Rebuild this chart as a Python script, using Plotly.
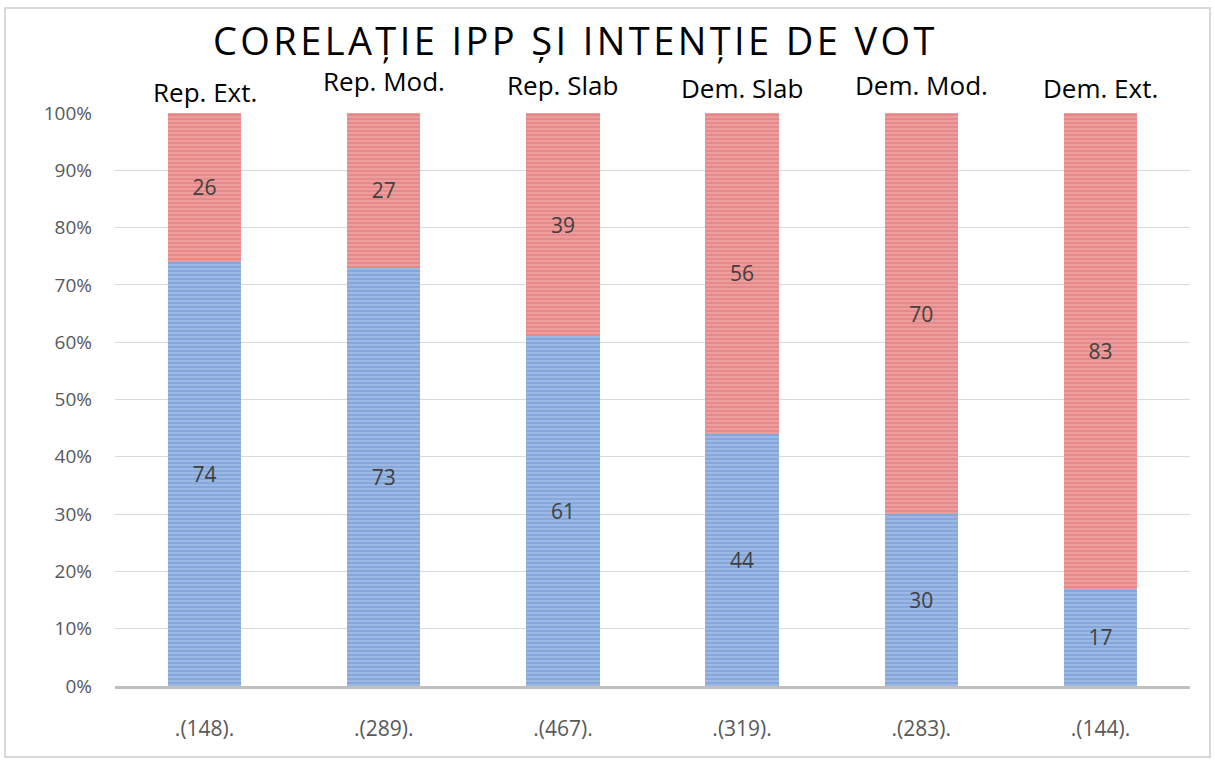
import plotly.graph_objects as go

groups = ["Rep. Ext.", "Rep. Mod.", "Rep. Slab", "Dem. Slab", "Dem. Mod.", "Dem. Ext."]
tick_labels = [".(148).", ".(289).", ".(467).", ".(319).", ".(283).", ".(144)."]
rep_vals = [74, 73, 61, 44, 30, 17]
dem_vals = [26, 27, 39, 56, 70, 83]
group_label_shift = [1, 12, 8, 5, 8, 5]

W, H = 1215, 765
L, R, T, B = 115, 25, 113, 79
pw, ph = W - L - R, H - T - B

fig = go.Figure()
fig.add_bar(
    x=tick_labels, y=rep_vals, text=[str(v) for v in rep_vals],
    textposition="inside", insidetextanchor="middle",
    textfont=dict(family="Open Sans", size=21, color="#404040"),
    marker=dict(color="#9CB8E4", line=dict(width=0),
                pattern=dict(shape="-", fgcolor="#6F95D2", size=4, solidity=0.5)),
    width=0.41, showlegend=False, hoverinfo="skip",
)
fig.add_bar(
    x=tick_labels, y=dem_vals, text=[str(v) for v in dem_vals],
    textposition="inside", insidetextanchor="middle",
    textfont=dict(family="Open Sans", size=21, color="#404040"),
    marker=dict(color="#EE9D9D", line=dict(width=0),
                pattern=dict(shape="-", fgcolor="#DC7577", size=4, solidity=0.5)),
    width=0.41, showlegend=False, hoverinfo="skip",
)

for lab, tl, sh in zip(groups, tick_labels, group_label_shift):
    fig.add_annotation(x=tl, y=100, xref="x", yref="y", text=lab, showarrow=False,
                       yanchor="bottom", yshift=sh,
                       font=dict(family="Open Sans", size=26, color="#000000"))

fig.add_annotation(x=(575 - L) / pw, y=1 + (T - 40) / ph, xref="paper", yref="paper",
                   xanchor="center", yanchor="middle", showarrow=False,
                   text='<span style="letter-spacing:3.4px">CORELAȚIE IPP ȘI INTENȚIE DE VOT</span>',
                   font=dict(family="Open Sans", size=38, color="#000000"))

fig.add_shape(type="rect", xref="paper", yref="paper",
              x0=-(L - 5) / pw, x1=1 + (R - 5) / pw, y0=-(B - 8) / ph, y1=1 + (T - 8) / ph,
              line=dict(color="#D9D9D9", width=2), fillcolor="rgba(0,0,0,0)", layer="below")

fig.update_layout(
    width=W, height=H, barmode="stack", bargap=0.59,
    margin=dict(l=L, r=R, t=T, b=B, autoexpand=False),
    paper_bgcolor="white", plot_bgcolor="white",
    xaxis=dict(tickfont=dict(family="Open Sans", size=21, color="#595959"), ticks="",
               showline=True, linecolor="#BFBFBF", linewidth=3, showgrid=False, ticklabelstandoff=22),
    yaxis=dict(range=[0, 100], dtick=10, ticksuffix="%", tickfont=dict(family="Open Sans", size=19, color="#595959"),
               gridcolor="#D9D9D9", gridwidth=1, showline=False, zeroline=False, ticklabelstandoff=22),
)

fig.write_html("out.html", config={"displayModeBar": False},
               post_script="document.body.style.margin='0';")
